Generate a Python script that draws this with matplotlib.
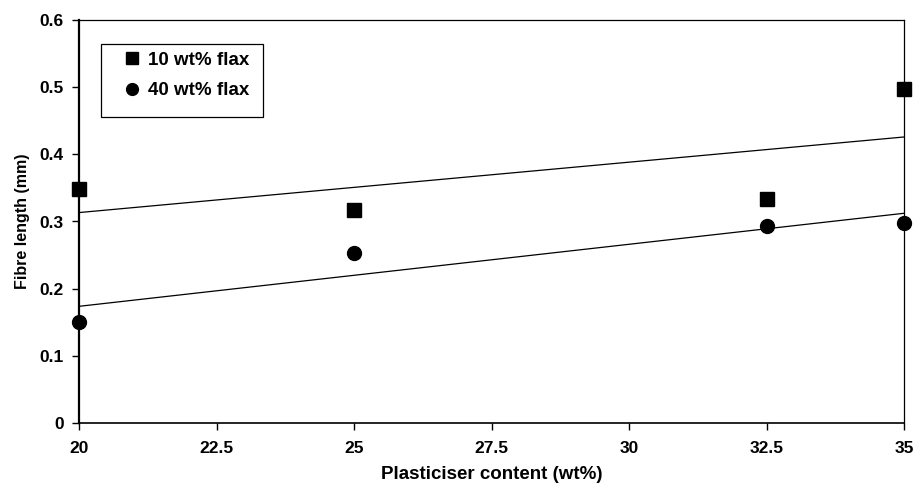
import numpy as np
import matplotlib.pyplot as plt
from matplotlib.patches import Rectangle

plt.rcParams['font.family'] = ['Liberation Sans', 'DejaVu Sans']
plt.rcParams['font.weight'] = 'bold'

plasticiser = [20, 25, 32.5, 35]
flax_10 = [0.348, 0.317, 0.334, 0.498]
flax_40 = [0.151, 0.253, 0.293, 0.298]

x_ticks = [20, 22.5, 25, 27.5, 30, 32.5, 35]
x_labels = ['20', '22.5', '25', '27.5', '30', '32.5', '35']
y_ticks = [0, 0.1, 0.2, 0.3, 0.4, 0.5, 0.6]
y_labels = ['0', '0.1', '0.2', '0.3', '0.4', '0.5', '0.6']

fig = plt.figure(figsize=(9.18, 4.88), dpi=100)
ax = fig.add_axes([79 / 918, 1 - 423 / 488, 825 / 918, 403 / 488])

ax.plot(plasticiser, flax_10, 's', color='black', markersize=9.5, clip_on=False, label='10 wt% flax', zorder=3)
ax.plot(plasticiser, flax_40, 'o', color='black', markersize=10, clip_on=False, label='40 wt% flax', zorder=3)

# linear trend lines
xs = np.array([20, 35])
for ys in (flax_10, flax_40):
    k, b = np.polyfit(plasticiser, ys, 1)
    ax.plot(xs, k * xs + b, color='black', lw=0.9, zorder=2)

ax.set_xlim(20, 35)
ax.set_ylim(0, 0.6)
ax.set_xticks(x_ticks)
ax.set_xticklabels(x_labels)
ax.set_yticks(y_ticks)
ax.set_yticklabels(y_labels)
ax.tick_params(direction='out', length=5, width=1, labelsize=12.5, pad=6)
ax.tick_params(axis='x', pad=8)

ax.spines['left'].set_linewidth(1.6)
ax.spines['bottom'].set_linewidth(1.2)
ax.spines['top'].set_linewidth(0.9)
ax.spines['right'].set_linewidth(0.9)

ax.set_xlabel('Plasticiser content (wt%)', fontsize=13.5, fontweight='bold', labelpad=7)
ax.set_ylabel('Fibre length (mm)', fontsize=11.5, fontweight='bold', labelpad=7)

# legend box (Excel style, extra space at the bottom)
ax.add_patch(Rectangle((0.0267, 0.759), 0.196, 0.181, transform=ax.transAxes,
                       facecolor='white', edgecolor='black', lw=0.9, zorder=4))
leg = ax.legend(loc='upper left', bbox_to_anchor=(0.054, 0.921), fontsize=13.5,
                markerscale=0.85, frameon=False, borderpad=0, labelspacing=0.7,
                handlelength=0.95, handletextpad=0.35, borderaxespad=0)
leg.set_zorder(5)

fig.savefig('out.png', dpi=100)
